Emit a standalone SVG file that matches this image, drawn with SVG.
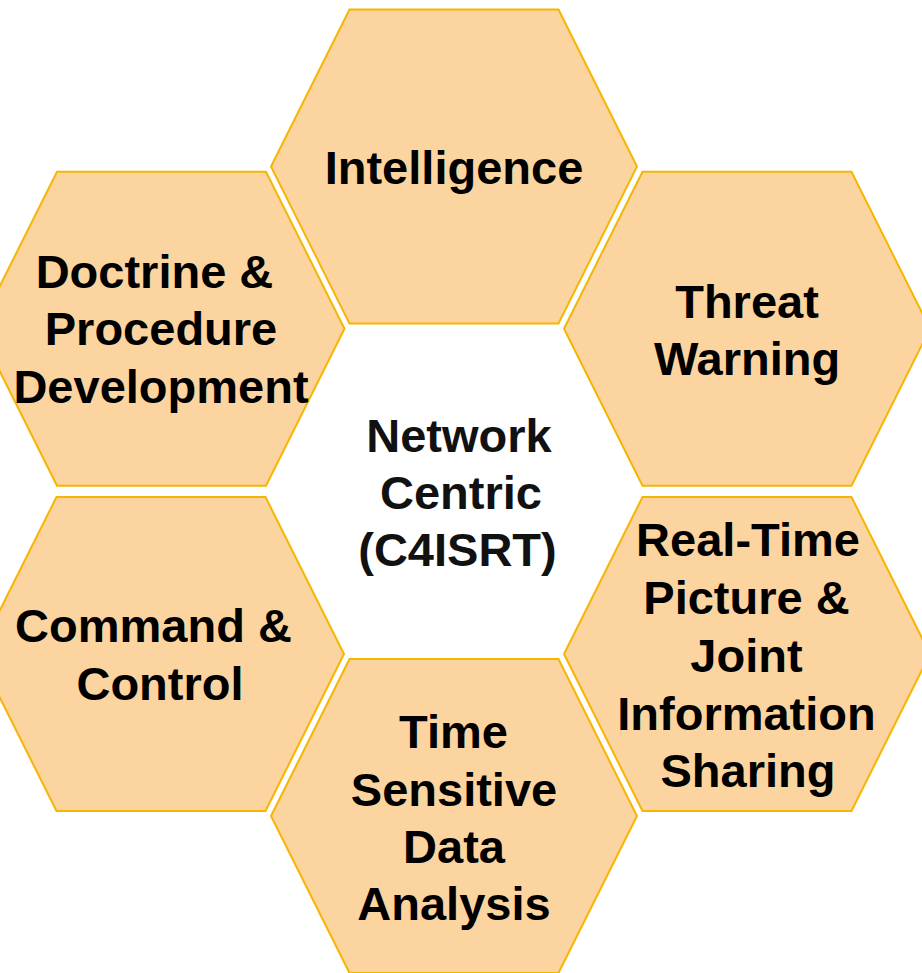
<svg xmlns="http://www.w3.org/2000/svg" width="922" height="973" viewBox="0 0 922 973">
<style>
.hex{fill:#FCD49F;stroke:#F6B500;stroke-width:2;stroke-linejoin:miter}
.lbl{font-family:"Liberation Sans",Arial,sans-serif;font-weight:bold;font-size:47px;fill:#000;text-anchor:middle}
</style>
<rect width="922" height="973" fill="#FFFFFF"/>
<g id="connectors"></g>
<g id="intelligence">
<polygon class="hex" points="349.5,9.5 558.5,9.5 637,166.5 558.5,323.5 349.5,323.5 271,166.5"/>
<text class="lbl" x="454" y="184">Intelligence</text>
</g>
<g id="doctrine">
<polygon class="hex" points="57,171.7 266,171.7 344.5,328.7 266,485.7 57,485.7 -21.5,328.7"/>
<text class="lbl"><tspan x="154.5" y="288">Doctrine &amp;</tspan><tspan x="161" y="345">Procedure</tspan><tspan x="161" y="402.5">Development</tspan></text>
</g>
<g id="threat">
<polygon class="hex" points="642.5,171.7 851.5,171.7 930,328.7 851.5,485.7 642.5,485.7 564,328.7"/>
<text class="lbl"><tspan x="747" y="318">Threat</tspan><tspan x="747" y="375">Warning</tspan></text>
</g>
<g id="command">
<polygon class="hex" points="56.5,497 265.5,497 344,654 265.5,811 56.5,811 -22,654"/>
<text class="lbl"><tspan x="153.5" y="642">Command &amp;</tspan><tspan x="160" y="700">Control</tspan></text>
</g>
<g id="realtime">
<polygon class="hex" points="642.5,497 851.5,497 930,654 851.5,811 642.5,811 564,654"/>
<text class="lbl"><tspan x="748" y="556">Real-Time</tspan><tspan x="746.5" y="614">Picture &amp;</tspan><tspan x="746.5" y="672">Joint</tspan><tspan x="746.5" y="729.5">Information</tspan><tspan x="748" y="787">Sharing</tspan></text>
</g>
<g id="timesensitive">
<polygon class="hex" points="349.5,659 558.5,659 637,816 558.5,973 349.5,973 271,816"/>
<text class="lbl"><tspan x="453.5" y="748">Time</tspan><tspan x="454" y="805.5">Sensitive</tspan><tspan x="454" y="863">Data</tspan><tspan x="454" y="920">Analysis</tspan></text>
</g>
<g id="center">
<text class="lbl" style="fill:#111"><tspan x="459" y="452">Network</tspan><tspan x="461" y="509">Centric</tspan><tspan x="457.5" y="566">(C4ISRT)</tspan></text>
</g>
</svg>
